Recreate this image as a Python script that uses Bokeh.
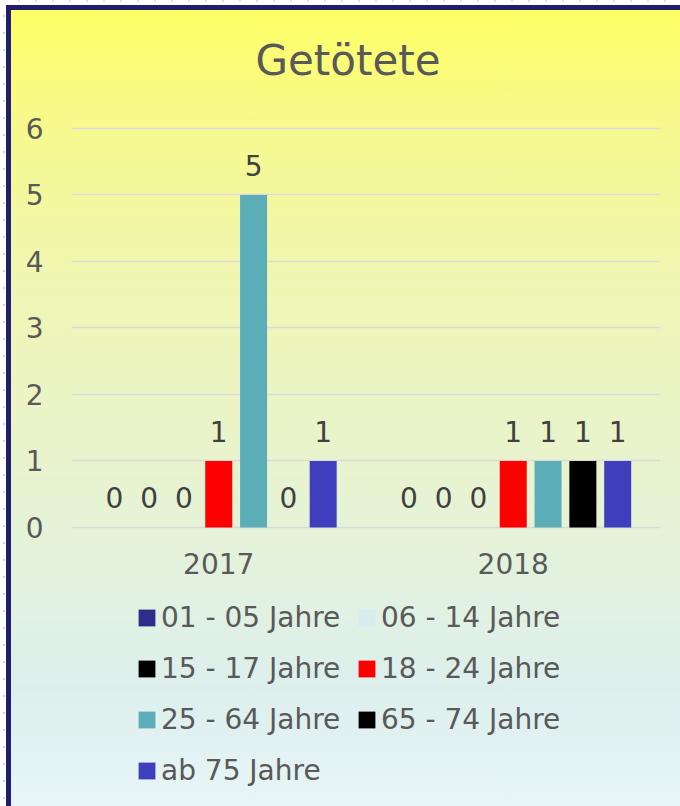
from bokeh.plotting import figure
from bokeh.models import (ColumnDataSource, FactorRange, Range1d, Legend,
                          LegendItem, FixedTicker, LabelSet, Label)
from bokeh.transform import dodge
from bokeh.core.properties import value
from bokeh.embed import file_html
from bokeh.resources import INLINE

# ---- data ----
title_text = "Getötete"
years = ["2017", "2018"]
series = ["01 - 05 Jahre", "06 - 14 Jahre", "15 - 17 Jahre", "18 - 24 Jahre",
          "25 - 64 Jahre", "65 - 74 Jahre", "ab 75 Jahre"]
v_01_05 = [0, 0]
v_06_14 = [0, 0]
v_15_17 = [0, 0]
v_18_24 = [1, 1]
v_25_64 = [5, 1]
v_65_74 = [0, 1]
v_ab_75 = [1, 1]
y_ticks = [0, 1, 2, 3, 4, 5, 6]
colors = ["#2E2E8A", "#D9ECEF", "#000000", "#FF0000", "#5BADB8", "#000000", "#3F3FBE"]

values = [v_01_05, v_06_14, v_15_17, v_18_24, v_25_64, v_65_74, v_ab_75]

data = {"year": years}
for i, vals in enumerate(values):
    data[f"s{i}"] = vals
    data[f"l{i}"] = [str(v) for v in vals]
src = ColumnDataSource(data)

FONT = "DejaVu Sans"

# frame spans the whole card; the category axis is pinned at y = 0
p = figure(x_range=FactorRange(*years), y_range=Range1d(-4.1053, 7.7744),
           width=680, height=806, output_backend="svg", toolbar_location=None,
           min_border_left=71, min_border_right=20, min_border_top=10,
           min_border_bottom=6, background_fill_color=None,
           border_fill_color=None, outline_line_color=None)

NAVY = "#1F1F6B"
p.styles = {
    "background": ", ".join([
        f"linear-gradient({NAVY}, {NAVY}) 6px 5px / 5px calc(100% - 5px) no-repeat",
        f"linear-gradient({NAVY}, {NAVY}) 6px 5px / calc(100% - 6px) 5px no-repeat",
        "linear-gradient(to bottom, #FFFF66 0%, #F6F98E 15%, #EFF6B6 36%, "
        "#EAF4C8 52%, #E3F2DD 70%, #DDEFEE 86%, #E8F5F6 100%) "
        "11px 10px / calc(100% - 11px) calc(100% - 10px) no-repeat",
        "repeating-linear-gradient(to bottom, #BCE0E2 0px, #BCE0E2 2px, "
        "transparent 2px, transparent 17px) 3px 15px / 2px calc(100% - 15px) no-repeat",
        "repeating-linear-gradient(to right, #D5E6E8 0px, #D5E6E8 2px, "
        "transparent 2px, transparent 17px) 18px 0px / calc(100% - 18px) 2px no-repeat",
        "#FFFFFF",
    ]),
}

# chart title, placed above the value 6 grid line
p.add_layout(Label(x=0.9389, y=7.03, text=title_text, text_align="center",
                   text_baseline="alphabetic", text_font=FONT,
                   text_font_size="42px", text_color="#595959"))

step = 0.1182
bw = 0.0917
renderers = []
for i in range(len(series)):
    off = (i - 3) * step
    r = p.vbar(x=dodge("year", off, range=p.x_range), top=f"s{i}", bottom=0, width=bw,
               source=src, fill_color=colors[i], line_color=None)
    renderers.append(r)
    labels = LabelSet(x=dodge("year", off, range=p.x_range), y=f"s{i}", text=f"l{i}",
                      source=src, text_align="center", text_baseline="alphabetic",
                      y_offset=19, text_font=value(FONT), text_font_size=value("28px"),
                      text_color="#404040")
    p.add_layout(labels)

# axes
for ax in (p.xaxis[0], p.yaxis[0]):
    ax.axis_line_color = None
    ax.major_tick_line_color = None
    ax.minor_tick_line_color = None
    ax.major_tick_out = 0
    ax.major_tick_in = 0
    ax.major_label_text_font = FONT
    ax.major_label_text_font_size = "28px"
    ax.major_label_text_color = "#595959"
p.yaxis[0].ticker = FixedTicker(ticks=y_ticks)
p.yaxis[0].major_label_standoff = 28
p.xaxis[0].major_label_standoff = 26
p.xaxis[0].fixed_location = 0

p.xgrid.grid_line_color = None
p.ygrid.grid_line_color = "#D9D9D9"
p.ygrid.grid_line_width = 1.5


def make_legend(idx, loc):
    leg = Legend(items=[LegendItem(label=series[i], renderers=[renderers[i]]) for i in idx],
                 location=loc)
    leg.padding = 0
    leg.margin = 0
    leg.border_line_color = None
    leg.background_fill_color = None
    leg.background_fill_alpha = 0
    leg.spacing = 16
    leg.label_height = 35
    leg.glyph_height = 21
    leg.glyph_width = 21
    leg.label_standoff = 4
    leg.label_text_font = FONT
    leg.label_text_font_size = "28px"
    leg.label_text_color = "#595959"
    return leg


p.add_layout(make_legend([0, 2, 4, 6], (65, 12.5)))
p.add_layout(make_legend([1, 3, 5], (285, 63.5)))

with open("out.html", "w", encoding="utf-8") as f:
    f.write(file_html(p, INLINE, "Getötete"))
